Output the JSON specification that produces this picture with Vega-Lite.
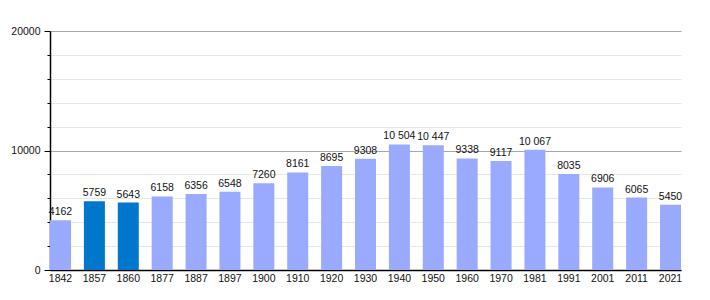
{
  "$schema": "https://vega.github.io/schema/vega-lite/v6.json",
  "width": 631,
  "height": 239,
  "autosize": {"type": "none"},
  "padding": {"left": 50, "top": 31, "right": 29, "bottom": 30},
  "background": "white",
  "config": {
    "view": {"stroke": null},
    "font": "Liberation Sans",
    "axis": {"labelFont": "Liberation Sans", "labelFontSize": 10.5, "labelColor": "#111"}
  },
  "data": {
    "values": [
      {"year": "1842", "pop": 4162, "label": "4162"},
      {"year": "1857", "pop": 5759, "label": "5759"},
      {"year": "1860", "pop": 5643, "label": "5643"},
      {"year": "1877", "pop": 6158, "label": "6158"},
      {"year": "1887", "pop": 6356, "label": "6356"},
      {"year": "1897", "pop": 6548, "label": "6548"},
      {"year": "1900", "pop": 7260, "label": "7260"},
      {"year": "1910", "pop": 8161, "label": "8161"},
      {"year": "1920", "pop": 8695, "label": "8695"},
      {"year": "1930", "pop": 9308, "label": "9308"},
      {"year": "1940", "pop": 10504, "label": "10 504"},
      {"year": "1950", "pop": 10447, "label": "10 447"},
      {"year": "1960", "pop": 9338, "label": "9338"},
      {"year": "1970", "pop": 9117, "label": "9117"},
      {"year": "1981", "pop": 10067, "label": "10 067"},
      {"year": "1991", "pop": 8035, "label": "8035"},
      {"year": "2001", "pop": 6906, "label": "6906"},
      {"year": "2011", "pop": 6065, "label": "6065"},
      {"year": "2021", "pop": 5450, "label": "5450"}
    ]
  },
  "encoding": {
    "x": {
      "field": "year", "type": "nominal", "sort": null,
      "scale": {"paddingInner": 0.38, "paddingOuter": 0},
      "axis": {"title": null, "labelAngle": 0, "ticks": false, "labelPadding": 3, "domainColor": "#000", "domainWidth": 1.5, "grid": false}
    },
    "y": {
      "field": "pop", "type": "quantitative",
      "scale": {"domain": [0, 20000], "nice": false},
      "axis": {
        "title": null,
        "values": [0, 2000, 4000, 6000, 8000, 10000, 12000, 14000, 16000, 18000, 20000],
        "labelExpr": "datum.value % 10000 === 0 ? datum.value : ''",
        "format": "d",
        "grid": true,
        "gridColor": {"condition": {"test": "datum.value % 10000 === 0", "value": "#a8a8a8"}, "value": "#e6e6e6"},
        "tickColor": "#000",
        "tickSize": {"condition": {"test": "datum.value % 10000 === 0", "value": 6}, "value": 3},
        "labelPadding": 4,
        "domainColor": "#000",
        "domainWidth": 1.5
      }
    }
  },
  "layer": [
    {
      "mark": {"type": "bar"},
      "encoding": {
        "color": {
          "condition": {"test": "datum.year === '1857' || datum.year === '1860'", "value": "#0077cc"},
          "value": "#99aaff"
        }
      }
    },
    {
      "mark": {"type": "text", "baseline": "bottom", "dy": -3, "fontSize": 10.5, "color": "#111", "font": "Liberation Sans"},
      "encoding": {"text": {"field": "label"}}
    }
  ]
}
